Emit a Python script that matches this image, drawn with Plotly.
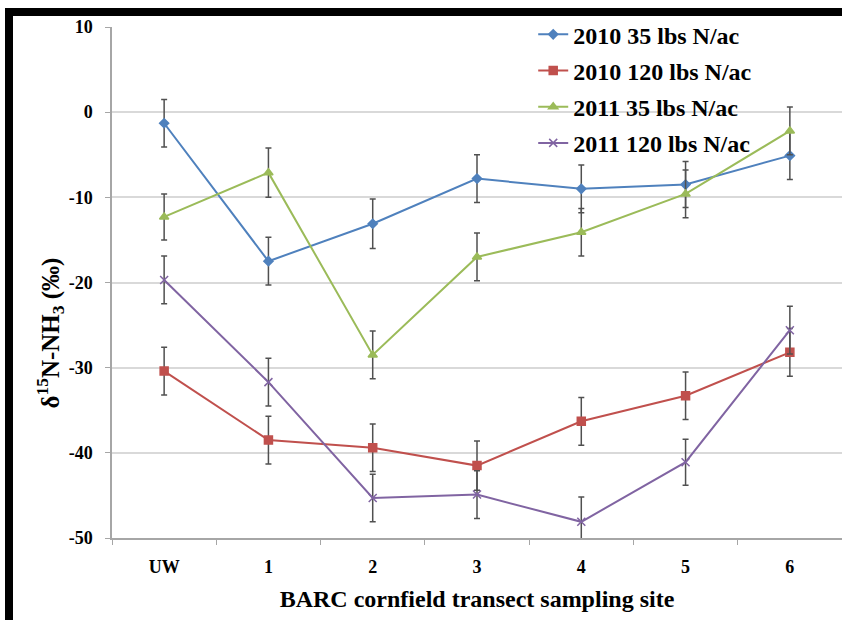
import plotly.graph_objects as go

sites = ["UW", "1", "2", "3", "4", "5", "6"]
y_ticks = [10, 0, -10, -20, -30, -40, -50]
y_tick_text = ["10", "0", "-10", "-20", "-30", "-40", "-50"]

y_2010_35 = [-1.3, -17.5, -13.1, -7.8, -9.0, -8.5, -5.1]
e_2010_35 = [2.8, 2.8, 2.9, 2.8, 2.8, 2.7, 2.8]
y_2010_120 = [-30.4, -38.5, -39.4, -41.5, -36.3, -33.3, -28.2]
e_2010_120 = [2.8, 2.8, 2.8, 2.9, 2.8, 2.8, 2.8]
y_2011_35 = [-12.3, -7.1, -28.5, -17.0, -14.1, -9.6, -2.2]
e_2011_35 = [2.7, 2.9, 2.8, 2.8, 2.8, 2.8, 2.8]
y_2011_120 = [-19.7, -31.7, -45.3, -44.9, -48.1, -41.1, -25.6]
e_2011_120 = [2.8, 2.8, 2.8, 2.8, 2.9, 2.7, 2.8]

series = [
    ("2010 35 lbs N/ac", y_2010_35, e_2010_35, "#4F81BD", "diamond", 7),
    ("2010 120 lbs N/ac", y_2010_120, e_2010_120, "#C0504D", "square", 8),
    ("2011 35 lbs N/ac", y_2011_35, e_2011_35, "#9BBB59", "triangle-up", 8),
    ("2011 120 lbs N/ac", y_2011_120, e_2011_120, "#8064A2", "x-thin-open", 8),
]

xs = list(range(len(sites)))
fig = go.Figure()
for i, (name, ys, es, col, sym, sz) in enumerate(series):
    fig.add_trace(go.Scatter(
        x=xs, y=ys, name=name, mode="lines+markers",
        legendgroup=f"g{i}",
        line=dict(color=col, width=2),
        marker=dict(symbol=sym, size=sz, color=col, line=dict(color=col, width=1.5)),
        error_y=dict(type="data", array=es, visible=True, color="#505050", thickness=1.5, width=3),
    ))

serif = "Liberation Serif"
fig.update_layout(
    width=842, height=620,
    margin=dict(l=112, r=0, t=27, b=82),
    paper_bgcolor="white", plot_bgcolor="white",
    font=dict(family=serif, color="black"),
    showlegend=True,
    legend=dict(
        x=0.577, y=1.029, xanchor="left", yanchor="top",
        bgcolor="rgba(0,0,0,0)",
        font=dict(family=serif, size=24, color="black", weight="bold"),
        traceorder="grouped", tracegroupgap=2, itemwidth=30,
    ),
    xaxis=dict(
        range=[-0.5, 6.5], tickmode="array", tickvals=xs, ticktext=sites,
        ticks="", showgrid=False, showline=True, linecolor="#a6a6a6", linewidth=1.5,
        tickfont=dict(family=serif, size=18, color="black", weight="bold"),
        ticklabelstandoff=12,
        minor=dict(tickmode="linear", tick0=-0.5, dtick=1, ticks="outside", ticklen=5,
                   tickcolor="#a6a6a6", showgrid=False),
        title=dict(text="BARC cornfield transect sampling site",
                   font=dict(family=serif, size=24, color="black", weight="bold"), standoff=14),
        zeroline=False,
    ),
    yaxis=dict(
        range=[-50, 10], tickmode="array", tickvals=y_ticks, ticktext=y_tick_text,
        showgrid=True, gridcolor="#d9d9d9", gridwidth=1.5,
        showline=True, linecolor="#a6a6a6", linewidth=1.5,
        ticks="outside", ticklen=5, tickcolor="#a6a6a6",
        tickfont=dict(family=serif, size=18, color="black", weight="bold"),
        ticklabelstandoff=9, zeroline=False,
    ),
    annotations=[dict(
        text="δ<sup>15</sup>N-NH<sub>3</sub> (‰)", textangle=-90,
        xref="paper", yref="paper", x=(50 - 112) / 730, y=0.40, xanchor="center", yanchor="middle",
        showarrow=False, font=dict(family=serif, size=25, color="black", weight="bold"),
    )],
    shapes=[
        dict(type="rect", xref="paper", yref="paper", x0=(5 - 112) / 730, x1=1.01,
             y0=(538 - 16) / 511, y1=(538 - 8) / 511, fillcolor="black", line=dict(width=0), layer="above"),
        dict(type="rect", xref="paper", yref="paper", x0=(5 - 112) / 730, x1=(13 - 112) / 730,
             y0=(538 - 625) / 511, y1=(538 - 8) / 511, fillcolor="black", line=dict(width=0), layer="above"),
    ],
)

fig.write_html("out.html")
